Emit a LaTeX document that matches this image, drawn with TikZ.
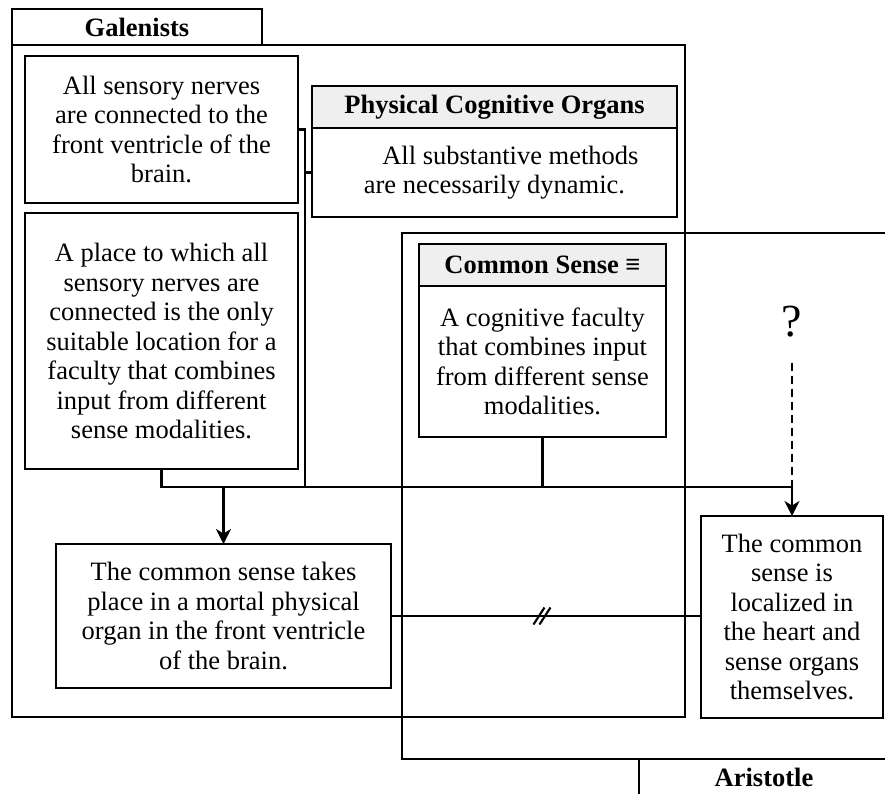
\documentclass[tikz,border=0pt]{standalone}
\usepackage{fontspec}
\setmainfont{Liberation Serif}
\usetikzlibrary{arrows.meta, positioning}
\definecolor{colHead}{HTML}{EFEFEF}
\definecolor{colLine}{HTML}{000000}

\begin{document}
\begin{tikzpicture}[
  x=1pt, y=-1pt,
  font=\fontsize{26.5}{29.5}\selectfont,
  >={Stealth[length=15pt, width=15pt, inset=4.5pt]},
  every node/.style={align=center, inner sep=0pt, outer sep=0pt},
  frame/.style={draw=colLine, line width=2.1pt, minimum width=673pt},
  tab/.style={
    draw=colLine, line width=2.1pt,
    minimum width=250pt, minimum height=36pt,
    font=\fontsize{26.5}{29.5}\selectfont\bfseries
  },
  box/.style={draw=colLine, fill=white, line width=2.1pt},
  headbox/.style={box, fill=colHead, font=\fontsize{26.5}{29.5}\selectfont\bfseries},
  conn/.style={line width=2.1pt, color=colLine},
  arrow/.style={->, line width=2.1pt, color=colLine},
  dashline/.style={line width=2.1pt, color=colLine, dash pattern=on 8pt off 5pt},
]

\useasboundingbox (0,0) rectangle (885,793);
\clip (0,0) rectangle (885,793);

%% ============================================================
%% Frames - Galenists and Aristotle
%% ============================================================
\node[tab] (galTab) at (137,27) {Galenists};
\node[frame, minimum height=672pt] (galFrame) at (348.5,381) {};

\node[frame, minimum height=526pt] (ariFrame) at (738.5,496) {};
\node[tab] (ariTab) at (764,777) {Aristotle};

%% ============================================================
%% Galenist premises
%% ============================================================
\node[box, minimum width=273pt, minimum height=147pt] (nerves) at (161.5,129.5)
  {All sensory nerves\\are connected to the\\front ventricle of the\\brain.};
\node[box, minimum width=273pt, minimum height=256pt] (place) at (161.5,341)
  {A place to which all\\sensory nerves are\\connected is the only\\suitable location for a\\faculty that combines\\input from different\\sense modalities.};

\node[headbox, minimum width=365pt, minimum height=42pt] (physHead) at (494.5,107)
  {Physical Cognitive Organs};
\node[box, minimum width=365pt, minimum height=89pt, below=0pt of physHead] (physBody)
  {\hspace*{1.2em}All substantive methods\\are necessarily dynamic.};

%% ============================================================
%% Shared definition
%% ============================================================
\node[headbox, minimum width=247pt, minimum height=42pt] (csHead) at (542.5,265)
  {Common Sense ≡};
\node[box, minimum width=247pt, minimum height=151pt, below=0pt of csHead] (csBody)
  {A cognitive faculty\\that combines input\\from different sense\\modalities.};

\node[font=\fontsize{46}{50}\selectfont] (quest) at (792,322) {?};

%% ============================================================
%% Conclusions
%% ============================================================
\node[box, minimum width=335pt, minimum height=144pt] (galConc) at (223.5,616)
  {The common sense takes\\place in a mortal physical\\organ in the front ventricle\\of the brain.};
\node[box, minimum width=182pt, minimum height=202pt] (ariConc) at (792,617)
  {The common\\sense is\\localized in\\the heart and\\sense organs\\themselves.};

%% ============================================================
%% CONNECTORS
%% ============================================================
\coordinate (bus) at (0,487);

\draw[conn] (place.south) -- (place.south |- bus) -- (ariConc.north |- bus);
\draw[conn] (nerves.east) -- ++(7,0) coordinate (brk) -- (brk |- bus);
\draw[conn] (physBody.west) -- (physBody.west -| brk);
\draw[conn] (csBody.south) -- (csBody.south |- bus);
\draw[dashline, shorten <=25pt] (quest.south) -- (quest.south |- bus);

\draw[arrow] (galConc.north |- bus) -- (galConc.north);
\draw[arrow] (ariConc.north |- bus) -- (ariConc.north);

\draw[conn] (galConc.east) -- (galConc.east -| ariConc.west)
  coordinate[pos=0.487] (cut);
\draw[conn] ([xshift=-3pt]cut) +(-5.5,8.5) -- +(5.5,-8.5);
\draw[conn] ([xshift=3pt]cut) +(-5.5,8.5) -- +(5.5,-8.5);

\end{tikzpicture}
\end{document}
